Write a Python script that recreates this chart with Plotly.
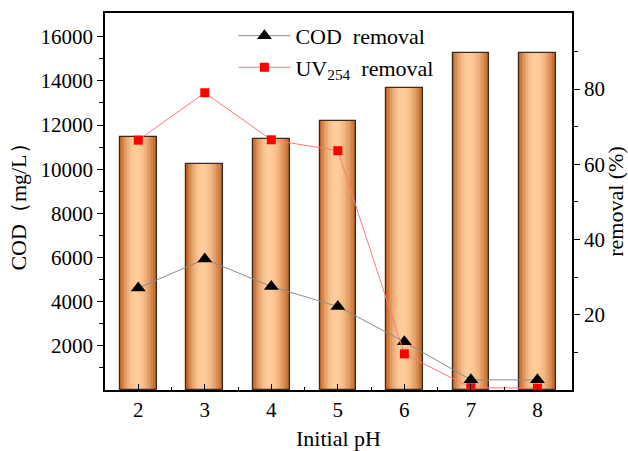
import plotly.graph_objects as go
import numpy as np

ph = [2, 3, 4, 5, 6, 7, 8]
cod = [11450, 10240, 11380, 12200, 13680, 15280, 15280]
cod_removal = [27.1, 34.8, 27.5, 22.2, 12.8, 2.7, 2.7]
uv_removal = [66.4, 79.0, 66.5, 63.6, 9.6, 0.6, 0.5]

left_ticks = [2000, 4000, 6000, 8000, 10000, 12000, 14000, 16000]
left_minor = [1000, 3000, 5000, 7000, 9000, 11000, 13000, 15000]
right_ticks = [20, 40, 60, 80]
right_minor = [10, 30, 50, 70, 90]

FONT = "Liberation Serif"

fig = go.Figure()

# gradient bars made of vertical strips
bar_w = 0.55
n = 24
edge = np.array([184, 84, 20])
light = np.array([255, 205, 155])
peak = 0.45
sw = bar_w / n
for i in range(n):
    t = (i + 0.5) / n
    s = t / peak * 0.5 if t < peak else 0.5 + (t - peak) / (1 - peak) * 0.5
    f = np.sin(np.pi * s) ** 0.8
    c = edge + (light - edge) * f
    col = "rgb(%d,%d,%d)" % tuple(c.astype(int))
    fig.add_trace(go.Bar(x=ph, y=cod, width=[sw * 1.08] * len(ph),
                         offset=[-bar_w / 2 + i * sw] * len(ph),
                         marker=dict(color=col, line=dict(width=0)),
                         showlegend=False, hoverinfo="skip"))
# outline
fig.add_trace(go.Bar(x=ph, y=cod, width=[bar_w] * len(ph),
                     marker=dict(color="rgba(0,0,0,0)", line=dict(color="#3a2a20", width=1.2)),
                     showlegend=False, name="COD"))

fig.add_trace(go.Scatter(x=ph, y=cod_removal, yaxis="y2", mode="lines+markers",
                         name="COD  removal",
                         line=dict(color="#8c8c8c", width=1),
                         marker=dict(symbol="triangle-up", size=13, color="black")))
fig.add_trace(go.Scatter(x=ph, y=uv_removal, yaxis="y2", mode="lines+markers",
                         name="UV<sub>254</sub>  removal",
                         line=dict(color="#ff7a7a", width=1),
                         marker=dict(symbol="square", size=9, color="#ff0000")))

fig.update_layout(
    width=628, height=451,
    margin=dict(l=105, r=56, t=13, b=61, autoexpand=False),
    paper_bgcolor="white", plot_bgcolor="white",
    barmode="overlay", bargap=0,
    font=dict(family=FONT, size=21, color="black"),
    xaxis=dict(range=[1.5, 8.52], tickmode="array", tickvals=ph,
               ticks="inside", ticklen=6, tickwidth=1.2, tickcolor="black",
               minor=dict(tickmode="array", tickvals=[2.5, 3.5, 4.5, 5.5, 6.5, 7.5],
                          ticks="inside", ticklen=3, tickwidth=1.2, tickcolor="black"),
               showline=True, linecolor="black", linewidth=1.5, mirror=True,
               showgrid=False, zeroline=False, automargin=False,
               tickfont=dict(family=FONT, size=21),
               title=dict(text="Initial pH", font=dict(family=FONT, size=22), standoff=12)),
    yaxis=dict(range=[0, 17075], tickmode="array", tickvals=left_ticks,
               tickformat="d",
               ticks="outside", ticklen=6, tickwidth=1.2, tickcolor="black",
               minor=dict(tickmode="array", tickvals=left_minor,
                          ticks="outside", ticklen=4, tickwidth=1.2, tickcolor="black"),
               showline=True, linecolor="black", linewidth=1.5,
               showgrid=False, zeroline=False, automargin=False,
               tickfont=dict(family=FONT, size=21),
               title=dict(text="COD（mg/L）", font=dict(family=FONT, size=22), standoff=8)),
    yaxis2=dict(range=[0, 100.2], overlaying="y", side="right",
                tickmode="array", tickvals=right_ticks,
                ticks="outside", ticklen=6, tickwidth=1.2, tickcolor="black",
                minor=dict(tickmode="array", tickvals=right_minor,
                           ticks="outside", ticklen=4, tickwidth=1.2, tickcolor="black"),
                showline=True, linecolor="black", linewidth=1.5,
                showgrid=False, zeroline=False, automargin=False,
                tickfont=dict(family=FONT, size=21),
                title=dict(text="removal (%)", font=dict(family=FONT, size=22), standoff=8)),
    legend=dict(x=0.275, y=0.995, xanchor="left", yanchor="top",
                bgcolor="rgba(0,0,0,0)", font=dict(family=FONT, size=22),
                itemwidth=52, tracegroupgap=0),
    showlegend=True,
)

fig.write_html("out.html")
